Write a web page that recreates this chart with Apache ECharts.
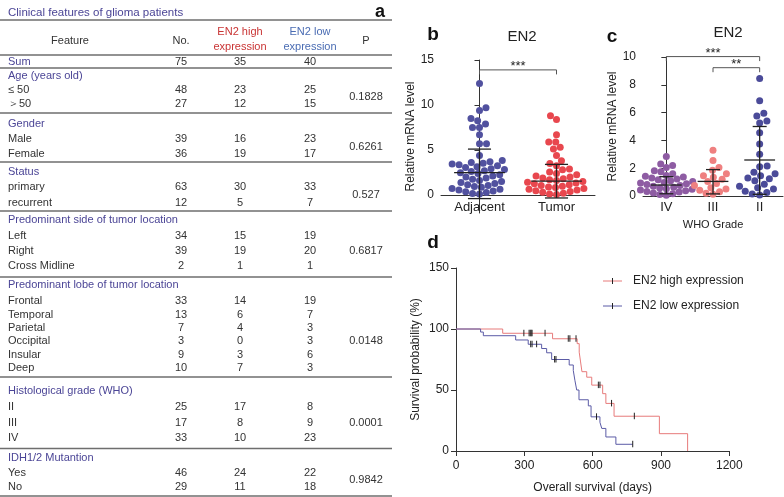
<!DOCTYPE html>
<html><head><meta charset="utf-8">
<script src="https://cdn.jsdelivr.net/npm/echarts@6/dist/echarts.min.js"></script>
<style>html,body{margin:0;padding:0;background:#fff}#c{width:784px;height:497px}</style>
</head><body><div id="c"></div>
<script>
// ---------------- DATA ----------------
const tableTitle = 'Clinical features of glioma patients';
const tableHeader = ['Feature', 'No.', 'EN2 high\nexpression', 'EN2 low\nexpression', 'P'];
const sumRow = ['Sum', 75, 35, 40];
const groupTitles = ['Age (years old)', 'Gender', 'Status', 'Predominant side of tumor location',
  'Predominant lobe of tumor location', 'Histological grade (WHO)', 'IDH1/2 Mutantion'];
const ageRows = [['≤ 50', 48, 23, 25], ['＞50', 27, 12, 15]];
const genderRows = [['Male', 39, 16, 23], ['Female', 36, 19, 17]];
const statusRows = [['primary', 63, 30, 33], ['recurrent', 12, 5, 7]];
const sideRows = [['Left', 34, 15, 19], ['Right', 39, 19, 20], ['Cross Midline', 2, 1, 1]];
const lobeRows = [['Frontal', 33, 14, 19], ['Temporal', 13, 6, 7], ['Parietal', 7, 4, 3],
  ['Occipital', 3, 0, 3], ['Insular', 9, 3, 6], ['Deep', 10, 7, 3]];
const gradeRows = [['II', 25, 17, 8], ['III', 17, 8, 9], ['IV', 33, 10, 23]];
const idhRows = [['Yes', 46, 24, 22], ['No', 29, 11, 18]];
const pValues = ['0.1828', '0.6261', '0.527', '0.6817', '0.0148', '0.0001', '0.9842'];

// panel b
const bCategories = ['Adjacent', 'Tumor'];
const adjacentValues = [12.4, 9.7, 9.4, 8.5, 8.25, 7.9, 7.5, 7.5, 6.7, 5.7, 5.7, 4.4,
  3.82, 3.7, 3.6, 3.52, 3.45, 3.35, 3.25, 3.15,
  3.05, 2.93, 2.82, 2.7, 2.6, 2.48, 2.38,
  2.25, 2.12, 2.0, 1.88, 1.75, 1.62,
  1.5, 1.38, 1.28, 1.15, 1.05, 0.95, 0.85,
  0.72, 0.63, 0.55, 0.45, 0.36, 0.27, 0.18, 0.1];
const tumorValues = [8.8, 8.4, 6.7, 5.9, 5.9, 5.3, 5.1, 4.4, 3.8, 3.5, 3.25,
  2.9, 2.8, 2.55, 2.4,
  2.25, 2.12, 2.0, 1.9, 1.8, 1.7, 1.6,
  1.5, 1.42, 1.33, 1.24, 1.15, 1.06, 0.98, 0.9, 0.82,
  0.72, 0.64, 0.55, 0.46, 0.38, 0.3, 0.2, 0.12, 0.05];
const bMean = [2.48, 1.55];
const bLow = [-0.4, -0.33];
const bHigh = [5.1, 3.4];
const bSig = [[0, 1, 13.9, '***']];

// panel c
const cCategories = ['IV', 'III', 'II'];
const gradeIVValues = [2.85, 2.3, 2.2, 2.05, 1.82, 1.75, 1.6,
  1.48, 1.42, 1.36, 1.3, 1.23, 1.17, 1.1, 1.04,
  0.98, 0.93, 0.88, 0.82, 0.76, 0.7, 0.63, 0.58, 0.53,
  0.48, 0.43, 0.38, 0.33, 0.28, 0.22, 0.16, 0.1, 0.05];
const gradeIIIValues = [3.3, 2.55, 2.05, 1.85, 1.6, 1.45, 1.35, 1.2, 1.05, 0.9, 0.75, 0.6, 0.5, 0.42, 0.3, 0.2, 0.12];
const gradeIIValues = [8.45, 6.85, 5.95, 5.75, 5.4, 5.25, 4.55, 3.75, 3.0, 2.15, 2.1, 1.7, 1.6, 1.45, 1.3,
  1.25, 1.1, 0.85, 0.7, 0.6, 0.5, 0.35, 0.25, 0.15, 0.08];
const cMean = [0.79, 1.05, 2.59];
const cLow = [0.16, 0.15, 0.12];
const cHigh = [1.39, 1.9, 5.0];
const cSig = [[0, 2, 10.03, '***'], [1, 2, 9.23, '**']];

// panel d (Kaplan-Meier)
const highTimes = [0, 205, 424, 532, 541, 547, 553, 574, 596, 644, 658, 694, 893, 1017];
const highSurv = [100, 96.5, 92, 88, 81, 73, 65, 60.5, 54, 47, 39, 28.5, 14.2, 0];
const highCensor = [298, 321, 326, 330, 334, 391, 493, 500, 527, 625, 632, 683, 783];
const lowTimes = [0, 108, 120, 262, 317, 376, 398, 420, 497, 515, 522, 530, 540, 581, 593, 632, 640, 658, 702, 776];
const lowSurv = [100, 97.5, 94.5, 91, 87.5, 84, 80.5, 75, 70.5, 66, 58, 50, 42, 37, 28, 23.5, 18.5, 11.5, 5.5, 5.5];
const lowCensor = [328, 334, 354, 433, 439, 617, 776];
const legendNames = ['EN2 high expression', 'EN2 low expression'];

// ---------------- STYLE / LAYOUT ----------------
const FONT = 'Liberation Sans, Arial, Helvetica, sans-serif';
const PURPLE = '#4b4596', TXT = '#333';
const C_ADJ = '#51519f', C_TUM = '#e8474e', C_IV = '#8e5ca3', C_III = '#ef8080', C_II = '#4b4b99';
const C_HIGH = '#e77b7b', C_LOW = '#5b5ba6';

const colX = [8, 181, 240, 310, 366];
const groupTitleY = [76, 124, 172, 220, 285, 391, 458];
const rowYs = [[90, 104], [139, 154], [187, 203], [236, 251, 266], [301, 314.5, 328, 341, 354.5, 368], [407, 423, 438], [473, 487]];
const pY = [97, 146.5, 195, 251, 341, 423, 480];
const lineYs = [20, 55, 68, 113, 162, 211, 277, 377, 448.5, 496];
const allRows = [ageRows, genderRows, statusRows, sideRows, lobeRows, gradeRows, idhRows];

function T(x, y, s, o) {
  o = o || {};
  return { type: 'text', x: x, y: y, silent: true, style: {
    text: s, fill: o.fill || TXT, fontSize: o.size || 11, fontFamily: FONT,
    fontWeight: o.weight || 'normal', align: o.align || 'center', verticalAlign: 'middle', lineHeight: o.lh || 15 } };
}
const graphics = [];
graphics.push(T(8, 13, tableTitle, { align: 'left', fill: PURPLE, size: 11.5 }));
graphics.push(T(380, 12, 'a', { weight: 'bold', size: 18, fill: '#111' }));
lineYs.forEach((y, i) => graphics.push({ type: 'line', silent: true,
  shape: { x1: 0, y1: y, x2: 392, y2: y }, style: { stroke: '#6e6e6e', lineWidth: (i === 0 || i === lineYs.length - 1) ? 1.6 : 1.3 } }));
graphics.push(T(70, 41, tableHeader[0]));
graphics.push(T(colX[1], 41, tableHeader[1]));
graphics.push(T(colX[2], 39.5, tableHeader[2], { fill: '#c93434' }));
graphics.push(T(colX[3], 39.5, tableHeader[3], { fill: '#4a6cb3' }));
graphics.push(T(colX[4], 41, tableHeader[4]));
graphics.push(T(colX[0], 61.5, sumRow[0], { align: 'left', fill: PURPLE }));
for (let k = 1; k < 4; k++) graphics.push(T(colX[k], 61.5, String(sumRow[k])));
groupTitles.forEach((g, gi) => {
  graphics.push(T(colX[0], groupTitleY[gi], g, { align: 'left', fill: PURPLE }));
  allRows[gi].forEach((r, ri) => {
    const y = rowYs[gi][ri];
    graphics.push(T(colX[0], y, r[0], { align: 'left' }));
    for (let k = 1; k < 4; k++) graphics.push(T(colX[k], y, String(r[k])));
  });
  graphics.push(T(colX[4], pY[gi], pValues[gi]));
});
// panel letters & titles
graphics.push(T(433, 35, 'b', { weight: 'bold', size: 19, fill: '#111' }));
graphics.push(T(612, 37, 'c', { weight: 'bold', size: 19, fill: '#111' }));
graphics.push(T(433, 243, 'd', { weight: 'bold', size: 19, fill: '#111' }));
graphics.push(T(522, 37, 'EN2', { size: 15, fill: '#222' }));
graphics.push(T(728, 33, 'EN2', { size: 15, fill: '#222' }));
// legend of panel d
[[281, C_HIGH], [306, C_LOW]].forEach((L, i) => {
  graphics.push({ type: 'line', silent: true, shape: { x1: 603, y1: L[0], x2: 622, y2: L[0] }, style: { stroke: L[1], lineWidth: 1 } });
  graphics.push({ type: 'line', silent: true, shape: { x1: 612.5, y1: L[0] - 3, x2: 612.5, y2: L[0] + 3 }, style: { stroke: '#222', lineWidth: 1 } });
  graphics.push(T(633, L[0], legendNames[i], { align: 'left', size: 12, fill: '#222' }));
});

const axisLine = { show: true, onZero: true, lineStyle: { color: '#333', width: 1 } };
const lbl = { color: '#222', fontSize: 12, fontFamily: FONT };
const nameStyle = { color: '#222', fontSize: 12, fontFamily: FONT };

function errRender(params, api) {
  const c = api.value(0), m = api.value(1), lo = api.value(2), hi = api.value(3);
  const mw = 0.33, cw = 0.15;
  const L = (a, b) => ({ type: 'line', shape: { x1: a[0], y1: a[1], x2: b[0], y2: b[1] }, style: { stroke: '#222', lineWidth: 1.3 } });
  return { type: 'group', children: [
    L(api.coord([c - mw, m]), api.coord([c + mw, m])),
    L(api.coord([c, lo]), api.coord([c, hi])),
    L(api.coord([c - cw, lo]), api.coord([c + cw, lo])),
    L(api.coord([c - cw, hi]), api.coord([c + cw, hi]))
  ] };
}
function sigRender(labels) {
  return function (params, api) {
    const a = api.coord([api.value(0), api.value(2)]);
    const b = api.coord([api.value(1), api.value(2)]);
    const st = { stroke: '#555', lineWidth: 1 };
    return { type: 'group', children: [
      { type: 'polyline', shape: { points: [[a[0], a[1] + 4.5], [a[0], a[1]], [b[0], b[1]], [b[0], b[1] + 4.5]] }, style: Object.assign({ fill: null }, st) },
      { type: 'text', x: (a[0] + b[0]) / 2, y: a[1] + 3, style: { text: labels[params.dataIndex], fill: '#222', fontSize: 13, fontFamily: FONT, align: 'center', verticalAlign: 'bottom' } }
    ] };
  };
}
function censorRender(params, api) {
  const p = api.coord([api.value(0), api.value(1)]);
  return { type: 'line', shape: { x1: p[0], y1: p[1] - 3.5, x2: p[0], y2: p[1] + 3 }, style: { stroke: '#222', lineWidth: 1 } };
}
function survAt(times, surv, t) {
  let s = surv[0];
  for (let i = 0; i < times.length; i++) if (times[i] <= t) s = surv[i];
  return s;
}

const option = {
  animation: false,
  backgroundColor: '#fff',
  textStyle: { fontFamily: FONT },
  graphic: graphics,
  grid: [
    { left: 441, top: 60, width: 154, height: 153, outerBoundsMode: 'none', containLabel: false },
    { left: 643, top: 57, width: 140, height: 139, outerBoundsMode: 'none', containLabel: false },
    { left: 456, top: 268, width: 273.3, height: 183, outerBoundsMode: 'none', containLabel: false }
  ],
  xAxis: [
    { type: 'category', gridIndex: 0, data: bCategories, axisLine: axisLine, axisTick: { show: false },
      axisLabel: Object.assign({}, lbl, { fontSize: 13, margin: -12 }), splitLine: { show: false } },
    { type: 'value', gridIndex: 0, min: -0.5, max: 1.5, show: false },
    { type: 'category', gridIndex: 1, data: cCategories, axisLine: axisLine, axisTick: { show: false },
      axisLabel: Object.assign({}, lbl, { fontSize: 13, margin: 5 }), splitLine: { show: false },
      name: 'WHO Grade', nameLocation: 'middle', nameGap: 23, nameTextStyle: Object.assign({}, nameStyle, { fontSize: 11 }) },
    { type: 'value', gridIndex: 1, min: -0.5, max: 2.5, show: false },
    { type: 'value', gridIndex: 2, min: 0, max: 1200, interval: 300, axisLine: axisLine,
      axisTick: { show: true, length: 5, lineStyle: { color: '#333' } },
      axisLabel: Object.assign({}, lbl, { margin: 9, formatter: v => String(v) }),
      splitLine: { show: false }, name: 'Overall survival (days)', nameLocation: 'middle', nameGap: 31, nameTextStyle: nameStyle }
  ],
  yAxis: [
    { type: 'value', gridIndex: 0, min: -2, max: 15, axisLine: axisLine,
      axisTick: { show: true, length: 5, customValues: [0, 5, 10, 15], lineStyle: { color: '#333' } },
      axisLabel: Object.assign({}, lbl, { customValues: [0, 5, 10, 15], margin: 7 }), splitLine: { show: false },
      name: 'Relative mRNA level', nameLocation: 'middle', nameGap: 20, nameTextStyle: nameStyle },
    { type: 'value', gridIndex: 1, min: 0, max: 10, interval: 2, axisLine: axisLine,
      axisTick: { show: true, length: 5, lineStyle: { color: '#333' } },
      axisLabel: Object.assign({}, lbl, { margin: 7 }), splitLine: { show: false },
      name: 'Relative mRNA level', nameLocation: 'middle', nameGap: 19, nameTextStyle: nameStyle },
    { type: 'value', gridIndex: 2, min: 0, max: 150, interval: 50, axisLine: axisLine,
      axisTick: { show: true, length: 5, lineStyle: { color: '#333' } },
      axisLabel: Object.assign({}, lbl, { margin: 7 }), splitLine: { show: false },
      name: 'Survival probability (%)', nameLocation: 'middle', nameGap: 34, nameTextStyle: nameStyle }
  ],
  series: [
    { id: 'adj', type: 'scatter', xAxisIndex: 1, yAxisIndex: 0, symbolSize: 7, clip: false, itemStyle: { color: C_ADJ, opacity: 1 }, data: [] },
    { id: 'tum', type: 'scatter', xAxisIndex: 1, yAxisIndex: 0, symbolSize: 7, clip: false, itemStyle: { color: C_TUM, opacity: 1 }, data: [] },
    { id: 'iv', type: 'scatter', xAxisIndex: 3, yAxisIndex: 1, symbolSize: 7, clip: false, itemStyle: { color: C_IV, opacity: 1 }, data: [] },
    { id: 'iii', type: 'scatter', xAxisIndex: 3, yAxisIndex: 1, symbolSize: 7, clip: false, itemStyle: { color: C_III, opacity: 1 }, data: [] },
    { id: 'ii', type: 'scatter', xAxisIndex: 3, yAxisIndex: 1, symbolSize: 7, clip: false, itemStyle: { color: C_II, opacity: 1 }, data: [] },
    { type: 'custom', xAxisIndex: 1, yAxisIndex: 0, clip: false, z: 5, renderItem: errRender,
      data: bMean.map((m, i) => [i, m, bLow[i], bHigh[i]]) },
    { type: 'custom', xAxisIndex: 3, yAxisIndex: 1, clip: false, z: 5, renderItem: errRender,
      data: cMean.map((m, i) => [i, m, cLow[i], cHigh[i]]) },
    { type: 'custom', xAxisIndex: 1, yAxisIndex: 0, clip: false, z: 5, renderItem: sigRender(bSig.map(s => s[3])),
      data: bSig.map(s => [s[0], s[1], s[2]]) },
    { type: 'custom', xAxisIndex: 3, yAxisIndex: 1, clip: false, z: 5, renderItem: sigRender(cSig.map(s => s[3])),
      data: cSig.map(s => [s[0], s[1], s[2]]) },
    { type: 'line', xAxisIndex: 4, yAxisIndex: 2, step: 'end', showSymbol: false, symbol: 'none',
      lineStyle: { color: C_HIGH, width: 1 }, data: highTimes.map((t, i) => [t, highSurv[i]]) },
    { type: 'line', xAxisIndex: 4, yAxisIndex: 2, step: 'end', showSymbol: false, symbol: 'none',
      lineStyle: { color: C_LOW, width: 1 }, data: lowTimes.map((t, i) => [t, lowSurv[i]]) },
    { type: 'custom', xAxisIndex: 4, yAxisIndex: 2, clip: false, z: 5, renderItem: censorRender,
      data: highCensor.map(t => [t, survAt(highTimes, highSurv, t)]) },
    { type: 'custom', xAxisIndex: 4, yAxisIndex: 2, clip: false, z: 5, renderItem: censorRender,
      data: lowCensor.map(t => [t, survAt(lowTimes, lowSurv, t)]) }
  ]
};

const chart = echarts.init(document.getElementById('c'), null, { renderer: 'canvas', width: 784, height: 497 });
chart.setOption(option);

// beeswarm layout: each point, from the bottom up, takes the free spot closest to the centre
function swarm(vals, xAxisIndex, yAxisIndex, cat, d) {
  const x0 = chart.convertToPixel({ xAxisIndex: xAxisIndex }, cat);
  const unit = chart.convertToPixel({ xAxisIndex: xAxisIndex }, cat + 1) - x0;
  const pts = vals.map(v => ({ v: v, y: chart.convertToPixel({ yAxisIndex: yAxisIndex }, v), x: 0 }));
  pts.sort((a, b) => b.y - a.y);
  const placed = [];
  pts.forEach((p, idx) => {
    const nb = placed.filter(q => Math.abs(q.y - p.y) < d);
    const cands = [0];
    nb.forEach(q => { const dx = Math.sqrt(d * d - (q.y - p.y) * (q.y - p.y)); cands.push(q.x + dx + 0.01, q.x - dx - 0.01); });
    cands.sort((a, b) => (Math.abs(a) - Math.abs(b)) || (idx % 2 ? a - b : b - a));
    for (const c of cands) {
      if (nb.every(q => (q.x - c) * (q.x - c) + (q.y - p.y) * (q.y - p.y) >= d * d - 0.05)) { p.x = c; break; }
    }
    placed.push(p);
  });
  return placed.map(p => [cat + p.x / unit, p.v]);
}
chart.setOption({ series: [
  { id: 'adj', data: swarm(adjacentValues, 1, 0, 0, 7) },
  { id: 'tum', data: swarm(tumorValues, 1, 0, 1, 7) },
  { id: 'iv', data: swarm(gradeIVValues, 3, 1, 0, 6.6) },
  { id: 'iii', data: swarm(gradeIIIValues, 3, 1, 1, 7) },
  { id: 'ii', data: swarm(gradeIIValues, 3, 1, 2, 7.5) }
] });
</script></body></html>
